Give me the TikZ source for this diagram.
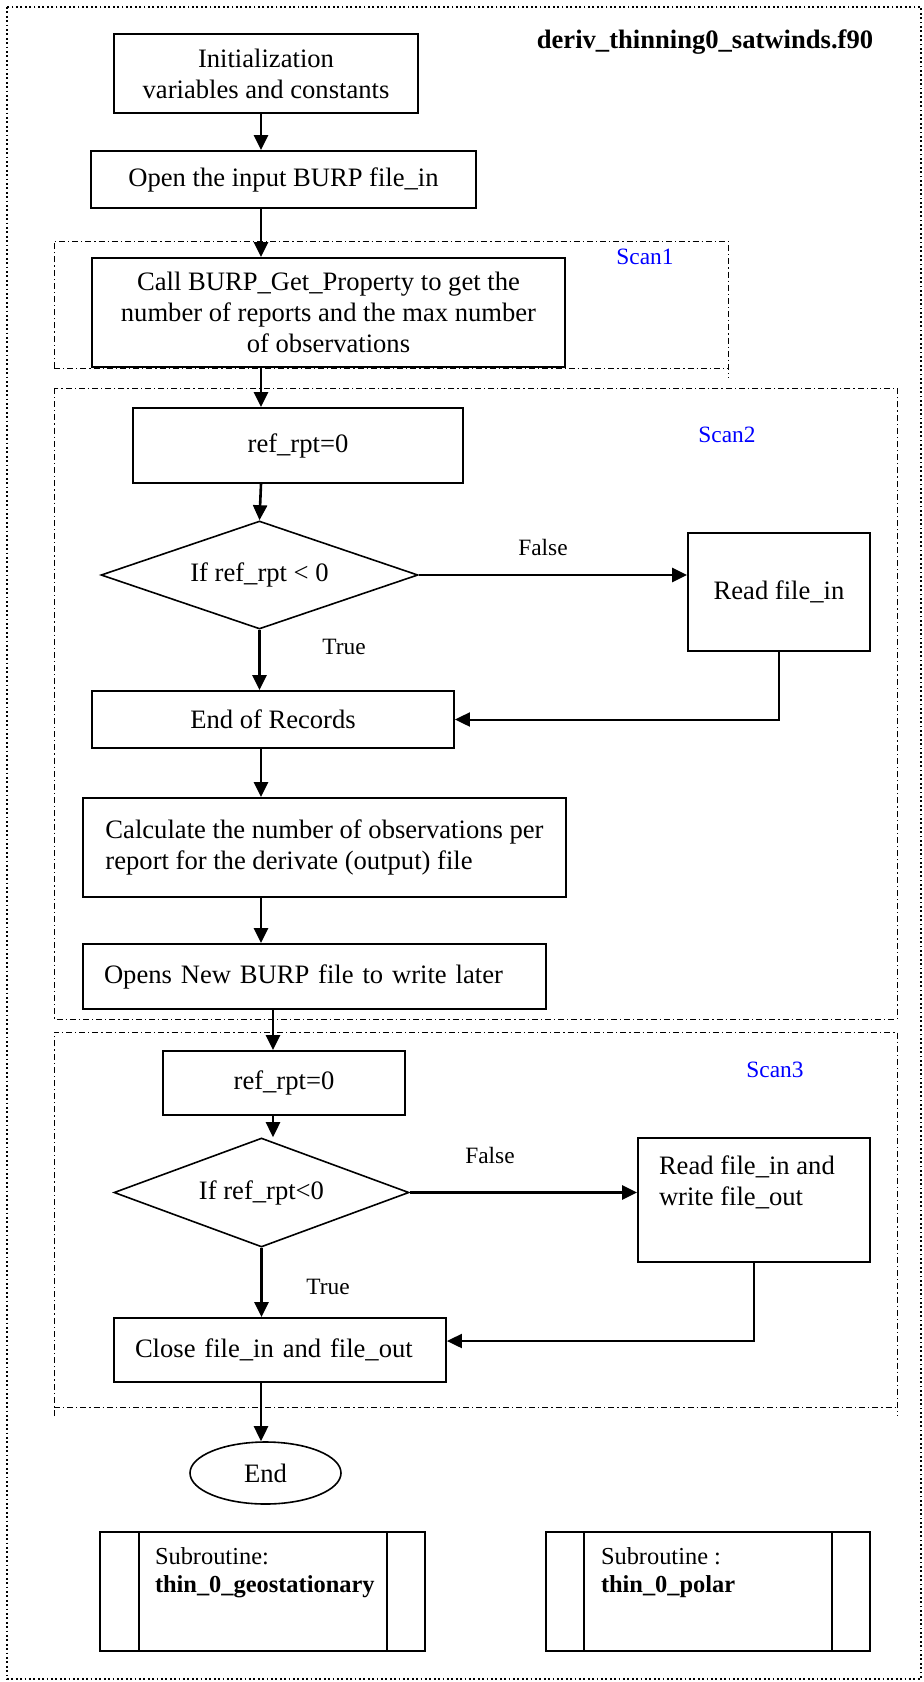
\documentclass[tikz,border=0pt]{standalone}
\usepackage{fontspec}
\setmainfont{Liberation Serif}
\usetikzlibrary{arrows.meta,shapes.geometric,calc}
\newcommand\mainfs{\fontsize{13.3}{15.6}\selectfont}
\newcommand\lblfs{\fontsize{11.7}{14}\selectfont}
\newcommand\subfs{\fontsize{12.2}{14}\selectfont}
\newcommand\titlefs{\fontsize{13.3}{16}\selectfont\bfseries}
\begin{document}
\begin{tikzpicture}[x=0.5pt,y=-0.5pt,
 box/.style={draw,line width=0.9pt,inner sep=0pt,font=\mainfs,align=center},
 dec/.style={draw,diamond,aspect=2.9,line width=0.8pt,inner sep=0pt,font=\mainfs},
 arr/.style={line width=1.3pt,-{Triangle[length=7.5pt,width=7pt]}},
 back/.style={line width=1pt,-{Triangle[length=7.5pt,width=7pt]}},
 lbl/.style={font=\lblfs,inner sep=0pt},
 scan/.style={font=\lblfs,text=blue,inner sep=0pt},
 frame/.style={line width=0.5pt,dash pattern=on 3pt off 1.5pt on 0.6pt off 1.5pt},
 outer/.style={line width=0.9pt,dash pattern=on 0.9pt off 1.3pt},
 sub/.style={draw,line width=0.8pt,inner sep=0pt,font=\subfs}]
\useasboundingbox (0,0) rectangle (924,1682);
\draw[outer] (7,7) rectangle (921,1679);

% frames
\draw[frame] (54,368) -- (54,241) -- (728,241) -- (728,378);
\draw[frame] (54,368) -- (728,368);
\draw[frame] (54,388) rectangle (897,1019);
\draw[frame] (54,1416) -- (54,1032) -- (897,1032) -- (897,1416);
\draw[frame] (54,1407) -- (897,1407);

% title and scan labels
\node[font=\titlefs,inner sep=0pt] (title) at (705,42) {deriv\_thinning0\_satwinds.f90};
\node[scan] (s1) at (645,257) {Scan1};
\node[scan] (s2) at (727,435) {Scan2};
\node[scan] (s3) at (775,1070) {Scan3};

% nodes
\node[box,minimum width=152pt,minimum height=39.5pt] (init) at (266,73.5) {Initialization\\variables and constants};
\node[box,minimum width=192.5pt,minimum height=28.5pt] (open) at (283.5,179.5) {Open the input BURP file\_in};
\node[box,minimum width=236.5pt,minimum height=54.5pt] (burp) at (328.5,312.5) {Call BURP\_Get\_Property to get the\\number of reports and the max number\\of observations};
\node[box,minimum width=165pt,minimum height=37.5pt] (ref1) at (298,445.5) {ref\_rpt=0};
\node[dec,minimum width=158.5pt,minimum height=54pt] (dia1) at (259.5,575) {If ref\_rpt < 0};
\node[box,minimum width=91pt,minimum height=59pt] (read1) at (779,592) {Read file\_in};
\node[box,minimum width=181pt,minimum height=28.5pt] (eor) at (273,719.5) {End of Records};
\node[box,minimum width=241.5pt,minimum height=49.5pt,align=left] (calc) at (324.5,847.5) {Calculate the number of observations per\\report for the derivate (output) file};
\node[box,minimum width=231.5pt,minimum height=32.5pt,inner xsep=10.5pt,text width=210.5pt,align=left] (opens) at (314.5,976.5) {Opens New BURP file to write later};
\node[box,minimum width=121pt,minimum height=32pt] (ref2) at (284,1083) {ref\_rpt=0};
\node[dec,minimum width=147.5pt,minimum height=54.5pt] (dia2) at (261.5,1192.5) {If ref\_rpt<0};
\node[box,minimum width=116pt,minimum height=62pt] (rw) at (754,1200) {\begin{minipage}[c][62pt][t]{95pt}\vspace*{9pt}Read file\_in and\\write file\_out\end{minipage}};
\node[box,minimum width=166pt,minimum height=32pt,inner xsep=10.5pt,text width=145pt,align=left] (close) at (280,1350) {Close file\_in and file\_out};
\node[draw,ellipse,line width=0.8pt,minimum width=75.5pt,minimum height=31pt,inner sep=0pt,font=\mainfs] (endn) at (265.5,1473) {End};

\node[sub,minimum width=162.5pt,minimum height=59.5pt] (sub1) at (262.5,1591.5) {\begin{minipage}[c][59.5pt][t]{107.5pt}\vspace*{8pt}Subroutine:\\\textbf{thin\_0\_geostationary}\end{minipage}};
\node[sub,minimum width=162pt,minimum height=59.5pt] (sub2) at (708,1591.5) {\begin{minipage}[c][59.5pt][t]{107pt}\vspace*{8pt}Subroutine :\\\textbf{thin\_0\_polar}\end{minipage}};
\draw[line width=0.8pt] ([xshift=20pt]sub1.north west) -- ([xshift=20pt]sub1.south west);
\draw[line width=0.8pt] ([xshift=-19.5pt]sub1.north east) -- ([xshift=-19.5pt]sub1.south east);
\draw[line width=0.8pt] ([xshift=19.5pt]sub2.north west) -- ([xshift=19.5pt]sub2.south west);
\draw[line width=0.8pt] ([xshift=-19.5pt]sub2.north east) -- ([xshift=-19.5pt]sub2.south east);

% labels
\node[lbl] (f1) at (543,547) {False};
\node[lbl] (t1) at (344,647) {True};
\node[lbl] (f2) at (490,1155) {False};
\node[lbl] (t2) at (328,1287) {True};

% connectors
\coordinate (cA) at (261,0);
\coordinate (cB) at (273,0);
\draw[arr] (init.south -| cA) -- (open.north -| cA);
\draw[arr] (open.south -| cA) -- (burp.north -| cA);
\draw[arr] (burp.south -| cA) -- (ref1.north -| cA);
\draw[arr] (ref1.south -| cA) -- (dia1.north);
\draw[arr] (dia1.east) -- (dia1.east -| read1.west);
\draw[back] (read1.south) |- (eor.east);
\draw[arr] (dia1.south) -- (dia1.south |- eor.north);
\draw[arr] (eor.south -| cA) -- (calc.north -| cA);
\draw[arr] (calc.south -| cA) -- (opens.north -| cA);
\draw[arr] (opens.south -| cB) -- (ref2.north -| cB);
\draw[arr] (ref2.south -| cB) -- (dia2.north -| cB);
\draw[arr] (dia2.east) -- (dia2.east -| rw.west);
\draw[back] (rw.south) |- ([yshift=4.5pt]close.east);
\draw[arr] (dia2.south) -- (dia2.south |- close.north);
\draw[arr] (close.south -| cA) -- (endn.north -| cA);
\end{tikzpicture}
\end{document}
